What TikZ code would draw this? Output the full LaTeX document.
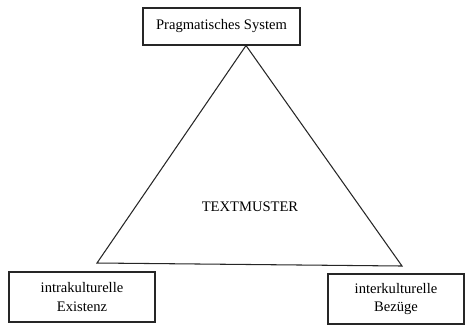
\documentclass[tikz,border=0pt]{standalone}
\usepackage{fontspec}
\setmainfont{Liberation Serif}
\usetikzlibrary{positioning}
\tikzset{
  ebox/.style={rectangle,draw=black!85,line width=0.6pt,fill=white,align=center,
    inner sep=2pt,font=\fontsize{8.3}{10.5}\selectfont},
  tri/.style={draw=black!85,line width=0.6pt}
}
\begin{document}
\begin{tikzpicture}[x=0.02cm,y=-0.02cm]
  \useasboundingbox (0,0) rectangle (466,326);
  \node[ebox,minimum width=157*0.02cm,minimum height=37*0.02cm] (prag) at (221.5,26.5) {Pragmatisches System};
  \node[ebox,minimum width=146*0.02cm,minimum height=50*0.02cm] (intra) at (82,297) {intrakulturelle\\Existenz};
  \node[ebox,minimum width=136*0.02cm,minimum height=50*0.02cm] (inter) at (396,299) {interkulturelle\\Bez\"uge};
  % triangle
  \coordinate (apex) at (246,45.5);
  \coordinate (bl) at (97,263);
  \coordinate (br) at (402,266);
  \draw[tri] (apex) -- (bl) -- (br) -- cycle;
  \node[font=\fontsize{8.3}{10}\selectfont] (muster) at (250,207) {TEXTMUSTER};
\end{tikzpicture}
\end{document}
